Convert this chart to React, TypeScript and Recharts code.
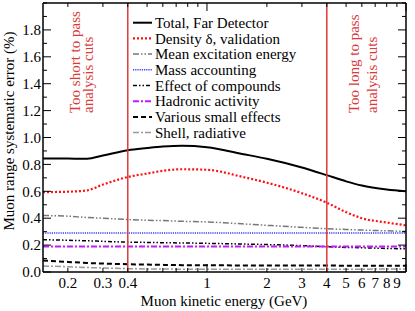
import { LineChart, Line, XAxis, YAxis, ReferenceLine, ReferenceArea, Legend } from "recharts"

const energies = [0.15, 0.2, 0.25, 0.3, 0.4, 0.5, 0.6, 0.75, 1, 1.5, 2, 3, 4, 5, 6, 8, 10]
const total = [0.844, 0.843, 0.842, 0.866, 0.906, 0.922, 0.933, 0.939, 0.928, 0.878, 0.842, 0.777, 0.72, 0.674, 0.643, 0.614, 0.6]
const density = [0.594, 0.597, 0.607, 0.65, 0.706, 0.732, 0.752, 0.764, 0.76, 0.708, 0.664, 0.586, 0.515, 0.445, 0.4, 0.368, 0.347]
const meanExcitation = [0.42, 0.415, 0.405, 0.4, 0.39, 0.385, 0.382, 0.377, 0.372, 0.358, 0.347, 0.332, 0.322, 0.316, 0.312, 0.306, 0.302]
const massAccounting = [0.29, 0.29, 0.29, 0.29, 0.29, 0.29, 0.29, 0.29, 0.29, 0.29, 0.29, 0.29, 0.29, 0.29, 0.29, 0.29, 0.29]
const compounds = [0.24, 0.236, 0.232, 0.228, 0.222, 0.22, 0.218, 0.216, 0.213, 0.208, 0.204, 0.196, 0.188, 0.183, 0.18, 0.175, 0.172]
const hadronic = [0.19, 0.19, 0.19, 0.19, 0.19, 0.19, 0.19, 0.19, 0.19, 0.19, 0.19, 0.19, 0.19, 0.19, 0.19, 0.19, 0.19]
const smallEffects = [0.085, 0.075, 0.067, 0.063, 0.058, 0.055, 0.053, 0.051, 0.05, 0.049, 0.049, 0.048, 0.048, 0.047, 0.047, 0.047, 0.047]
const shell = [0.045, 0.039, 0.033, 0.03, 0.025, 0.023, 0.022, 0.021, 0.02, 0.02, 0.02, 0.02, 0.02, 0.021, 0.021, 0.022, 0.022]

const xTicks = [0.2, 0.3, 0.4, 0.5, 0.6, 0.7, 0.8, 0.9, 1, 2, 3, 4, 5, 6, 7, 8, 9, 10]
const xTickLabels = [0.2, 0.3, 0.4, 1, 2, 3, 4, 5, 6, 7, 8, 9]
const yTicks = [0, 0.1, 0.2, 0.3, 0.4, 0.5, 0.6, 0.7, 0.8, 0.9, 1, 1.1, 1.2, 1.3, 1.4, 1.5, 1.6, 1.7, 1.8, 1.9, 2]
const yTickLabels = [0, 0.2, 0.4, 0.6, 0.8, 1, 1.2, 1.4, 1.6, 1.8]

const cutLow = 0.4
const cutHigh = 4
const shortText = ["Too short to pass", "analysis cuts"]
const longText = ["Too long to pass", "analysis cuts"]

const FONT = "Liberation Serif, Times New Roman, serif"
const txt = { fontFamily: FONT, fontSize: 15 }
const RED = "#dc3a3a"

const series = [
  { key: "total", name: "Total, Far Detector", values: total, color: "#000", width: 2, dash: undefined },
  { key: "density", name: "Density \u03b4, validation", values: density, color: "#ff1010", width: 2.2, dash: "2 2" },
  { key: "meanExc", name: "Mean excitation energy", values: meanExcitation, color: "#777", width: 1.5, dash: "6 2 1.5 2 1.5 2" },
  { key: "mass", name: "Mass accounting", values: massAccounting, color: "#3b3bff", width: 1.5, dash: "1.2 1" },
  { key: "compounds", name: "Effect of compounds", values: compounds, color: "#000", width: 1.5, dash: "4 2 1.5 2 1.5 2" },
  { key: "hadronic", name: "Hadronic activity", values: hadronic, color: "#c21bff", width: 2, dash: "6 2 2 2" },
  { key: "small", name: "Various small effects", values: smallEffects, color: "#000", width: 2, dash: "5 3" },
  { key: "shell", name: "Shell, radiative", values: shell, color: "#999", width: 1.5, dash: "6 2 2 2" },
]

const data = energies.map((e, i) => {
  const row: Record<string, number> = { energy: e }
  series.forEach((s) => (row[s.key] = s.values[i]))
  return row
})

function BottomTick({ x, y, payload }: any) {
  const v = payload.value
  const len = v === 1 || v === 10 ? 8 : 4
  return (
    <g>
      <line x1={x} x2={x} y1={y} y2={y - len} stroke="#000" />
      {xTickLabels.includes(v) && (
        <text x={x} y={y + 15.5} textAnchor="middle" style={txt} fill="#000">
          {v}
        </text>
      )}
    </g>
  )
}

function TopTick({ x, y, payload }: any) {
  const v = payload.value
  const len = v === 1 || v === 10 ? 8 : 4
  return <line x1={x} x2={x} y1={y} y2={y + len} stroke="#000" />
}

function LeftTick({ x, y, payload }: any) {
  const v = payload.value
  const labelled = yTickLabels.some((t) => Math.abs(t - v) < 1e-6)
  return (
    <g>
      <line x1={x} x2={x + (labelled ? 8 : 4)} y1={y} y2={y} stroke="#000" />
      {labelled && (
        <text x={x - 2} y={y} dy="0.35em" textAnchor="end" style={txt} fill="#000">
          {v.toFixed(1)}
        </text>
      )}
    </g>
  )
}

function RightTick({ x, y, payload }: any) {
  const v = payload.value
  const labelled = yTickLabels.some((t) => Math.abs(t - v) < 1e-6)
  return <line x1={x} x2={x - (labelled ? 8 : 4)} y1={y} y2={y} stroke="#000" />
}

function cutLabel(lines: string[], offsets: number[]) {
  return (props: any) => {
    const vb = props.viewBox
    const cx = vb.x + vb.width / 2
    const sy = vb.y + 110
    return (
      <g>
        {lines.map((t, i) => (
          <text
            key={i}
            x={cx + offsets[i]}
            y={sy}
            transform={`rotate(-90 ${cx + offsets[i]} ${sy})`}
            style={txt}
            fill={RED}
          >
            {t}
          </text>
        ))}
      </g>
    )
  }
}

function LegendBox() {
  return (
    <svg width={170} height={130}>
      {series.map((s, i) => {
        const y = 8.7 + i * 15.7
        return (
          <g key={s.key}>
            <line x1={3} x2={22} y1={y} y2={y} stroke={s.color} strokeWidth={s.width} strokeDasharray={s.dash} />
            <text x={25} y={y} dy="0.35em" style={txt} fill="#000">
              {s.name}
            </text>
          </g>
        )
      })}
    </svg>
  )
}

export default function App() {
  return (
    <div style={{ width: 415, height: 311, background: "#fff", fontFamily: FONT }}>
      <style>{"body{margin:0}"}</style>
      <LineChart width={415} height={311} data={data} margin={{ top: 0, right: 0, bottom: 0, left: 0 }}>
        <XAxis
          dataKey="energy"
          type="number"
          scale="log"
          domain={[0.15, 10]}
          allowDataOverflow
          ticks={xTicks}
          interval={0}
          height={39}
          tickSize={0}
          tickMargin={0}
          tick={<BottomTick />}
          axisLine={{ stroke: "#000", strokeWidth: 1.5 }}
          label={(p: any) => (
            <text x={224} y={p.viewBox.y + 33.5} textAnchor="middle" style={txt} fill="#000">
              Muon kinetic energy (GeV)
            </text>
          )}
        />
        <XAxis
          xAxisId="top"
          orientation="top"
          dataKey="energy"
          type="number"
          scale="log"
          domain={[0.15, 10]}
          allowDataOverflow
          ticks={xTicks}
          interval={0}
          height={3}
          tickSize={0}
          tickMargin={0}
          tick={<TopTick />}
          axisLine={{ stroke: "#000", strokeWidth: 1.5 }}
        />
        <YAxis
          type="number"
          domain={[0, 2]}
          allowDataOverflow
          ticks={yTicks}
          interval={0}
          width={43}
          tickSize={0}
          tickMargin={0}
          tick={<LeftTick />}
          axisLine={{ stroke: "#000", strokeWidth: 1.5 }}
          label={() => {
            const cy = 131
            return (
              <text x={14} y={cy} transform={`rotate(-90 14 ${cy})`} textAnchor="middle" style={txt} fill="#000">
                Muon range systematic error (%)
              </text>
            )
          }}
        />
        <YAxis
          yAxisId="right"
          orientation="right"
          type="number"
          domain={[0, 2]}
          allowDataOverflow
          ticks={yTicks}
          interval={0}
          width={9}
          tickSize={0}
          tickMargin={0}
          tick={<RightTick />}
          axisLine={{ stroke: "#000", strokeWidth: 1.5 }}
        />
        <ReferenceArea x1={0.15} x2={cutLow} fill="none" stroke="none" label={cutLabel(shortText, [-5, 8])} />
        <ReferenceArea x1={cutHigh} x2={10} fill="none" stroke="none" label={cutLabel(longText, [-7, 11])} />
        {series.map((s) => (
          <Line
            key={s.key}
            dataKey={s.key}
            name={s.name}
            type="monotone"
            stroke={s.color}
            strokeWidth={s.width}
            strokeDasharray={s.dash}
            dot={false}
            isAnimationActive={false}
          />
        ))}
        <ReferenceLine x={cutLow} stroke={RED} strokeWidth={1.5} />
        <ReferenceLine x={cutHigh} stroke={RED} strokeWidth={1.5} />
        <Legend
          layout="vertical"
          align="center"
          verticalAlign="middle"
          content={() => <LegendBox />}
          wrapperStyle={{ position: "absolute", left: 130, top: 14, width: 170, height: 130 }}
        />
      </LineChart>
    </div>
  )
}
